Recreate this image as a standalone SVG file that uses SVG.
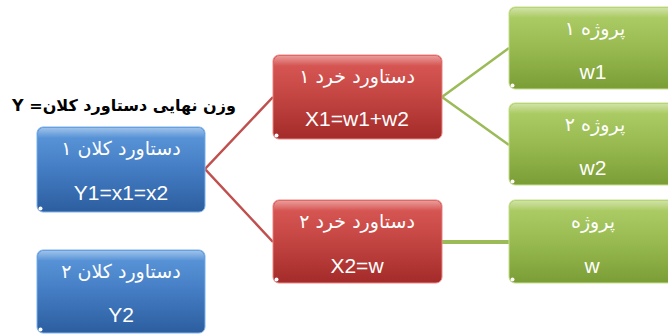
<svg xmlns="http://www.w3.org/2000/svg" width="668" height="334" viewBox="0 0 668 334">
<defs>
<linearGradient id="gBlue" x1="0" y1="0" x2="0" y2="1">
<stop offset="0" stop-color="#4d8fd9"/><stop offset="0.5" stop-color="#3b76c0"/><stop offset="1" stop-color="#2c5e9f"/>
</linearGradient>
<linearGradient id="gRed" x1="0" y1="0" x2="0" y2="1">
<stop offset="0" stop-color="#d84a47"/><stop offset="0.5" stop-color="#c03c39"/><stop offset="1" stop-color="#a32b29"/>
</linearGradient>
<linearGradient id="gGreen" x1="0" y1="0" x2="0" y2="1">
<stop offset="0" stop-color="#a9cb5c"/><stop offset="0.5" stop-color="#93b748"/><stop offset="1" stop-color="#7b9d36"/>
</linearGradient>
<linearGradient id="gloss" x1="0" y1="0" x2="0" y2="1">
<stop offset="0" stop-color="#fff" stop-opacity="0.45"/><stop offset="0.12" stop-color="#fff" stop-opacity="0.08"/><stop offset="1" stop-color="#fff" stop-opacity="0"/>
</linearGradient>
</defs>
<style>
.box{stroke-width:1}
.blue{fill:url(#gBlue);stroke:#7fb2ea}
.red{fill:url(#gRed);stroke:#e88784}
.green{fill:url(#gGreen);stroke:#c6e08e}
.gl{fill:url(#gloss)}
.dot{fill:#fff}
.fa{font-family:"DejaVu Sans",sans-serif;font-size:19px;fill:#fff;text-anchor:middle}
.la{font-family:"Liberation Sans","DejaVu Sans",sans-serif;font-size:21px;fill:#fff;text-anchor:middle}
.title{font-family:"DejaVu Sans",sans-serif;font-weight:bold;font-size:16px;fill:#000;text-anchor:middle}
.lr{stroke:#c0504d;stroke-width:2.5;fill:none}
.lg{stroke:#9bbb59;stroke-width:2.5;fill:none}
</style>
<rect width="668" height="334" fill="#fff"/>
<g id="connectors">
<polyline class="lr" points="273,97 205,169 273,242"/>
<polyline class="lg" points="509,48 442,97 509,145"/>
<line class="lg" x1="442" y1="242" x2="509" y2="242" style="stroke-width:4"/>
</g>
<text class="title" x="124" y="111" direction="rtl">وزن نهایی دستاورد کلان= Y</text>
<g id="b1">
<rect class="box blue" x="37" y="127" width="168" height="85" rx="6"/>
<rect class="gl" x="38" y="128" width="166" height="83" rx="5"/>
<circle class="dot" cx="40.5" cy="208.5" r="2"/>
<text class="fa" x="121" y="155">دستاورد کلان ۱</text>
<text class="la" x="121" y="200">Y1=x1=x2</text>
</g>
<g id="b2">
<rect class="box blue" x="37" y="250" width="168" height="83" rx="6"/>
<rect class="gl" x="38" y="251" width="166" height="81" rx="5"/>
<circle class="dot" cx="40.5" cy="329.5" r="2"/>
<text class="fa" x="121" y="278">دستاورد کلان ۲</text>
<text class="la" x="121" y="322">Y2</text>
</g>
<g id="r1">
<rect class="box red" x="273" y="55" width="169" height="84" rx="6"/>
<rect class="gl" x="274" y="56" width="167" height="82" rx="5"/>
<circle class="dot" cx="276.5" cy="135.5" r="2"/>
<text class="fa" x="357" y="83">دستاورد خرد ۱</text>
<text class="la" x="357" y="126">X1=w1+w2</text>
</g>
<g id="r2">
<rect class="box red" x="273" y="200" width="169" height="83" rx="6"/>
<rect class="gl" x="274" y="201" width="167" height="81" rx="5"/>
<circle class="dot" cx="276.5" cy="279.5" r="2"/>
<text class="fa" x="357" y="228">دستاورد خرد ۲</text>
<text class="la" x="357" y="273">X2=w</text>
</g>
<g id="g1">
<rect class="box green" x="509" y="7" width="170" height="82" rx="6"/>
<rect class="gl" x="510" y="8" width="168" height="80" rx="5"/>
<circle class="dot" cx="512.5" cy="85.5" r="2"/>
<text class="fa" x="595" y="35">پروژه ۱</text>
<text class="la" x="593" y="79">w1</text>
</g>
<g id="g2">
<rect class="box green" x="509" y="103" width="170" height="82" rx="6"/>
<rect class="gl" x="510" y="104" width="168" height="80" rx="5"/>
<circle class="dot" cx="512.5" cy="181.5" r="2"/>
<text class="fa" x="595" y="131">پروژه ۲</text>
<text class="la" x="593" y="175">w2</text>
</g>
<g id="g3">
<rect class="box green" x="509" y="200" width="170" height="83" rx="6"/>
<rect class="gl" x="510" y="201" width="168" height="81" rx="5"/>
<circle class="dot" cx="512.5" cy="279.5" r="2"/>
<text class="fa" x="593" y="228">پروژه</text>
<text class="la" x="592" y="273">w</text>
</g>
</svg>
